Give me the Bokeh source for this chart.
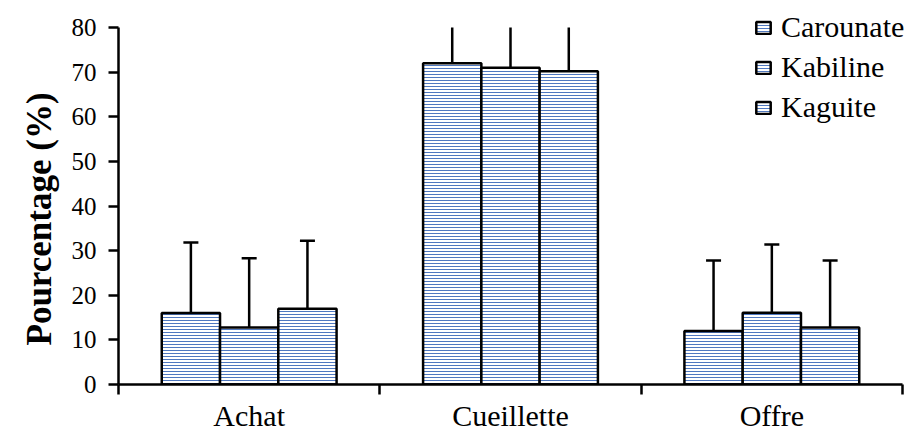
from bokeh.plotting import figure
from bokeh.models import FixedTicker, Legend, LegendItem, Range1d, Title
from bokeh.embed import file_html
from bokeh.resources import INLINE

categories = ["Achat", "Cueillette", "Offre"]
series = ["Carounate", "Kabiline", "Kaguite"]
carounate = [16.0, 72.0, 12.0]
kabiline = [12.8, 71.0, 16.1]
kaguite = [17.0, 70.2, 12.8]
carounate_err = [15.8, 16.0, 15.8]
kabiline_err = [15.5, 16.0, 15.3]
kaguite_err = [15.2, 16.0, 15.0]
y_ticks = [0, 10, 20, 30, 40, 50, 60, 70, 80]
y_label = "Pourcentage (%)"

values = [carounate, kabiline, kaguite]
errors = [carounate_err, kabiline_err, kaguite_err]

FONT = "Liberation Serif"
BAR_W = 0.223
HATCH = "#4f78c0"
Y_MAX = 80
W, H = 913, 434
LEFT, BOTTOM = 118, 50
FRAME_H = H - BOTTOM          # frame runs from top of canvas
AXIS_TOP_PX = 27              # where the axis maximum sits inside the frame
AXIS_RIGHT_PX = 902           # where the x axis ends
view_top = Y_MAX * FRAME_H / (FRAME_H - AXIS_TOP_PX)
n = len(categories)
view_right = n * (W - LEFT) / (AXIS_RIGHT_PX - LEFT)

p = figure(width=W, height=H, output_backend="svg", toolbar_location=None,
           x_range=Range1d(0, view_right), y_range=Range1d(0, view_top),
           min_border_left=LEFT, min_border_right=0, min_border_top=0, min_border_bottom=BOTTOM)
p.grid.visible = False
p.outline_line_color = None
p.background_fill_color = "white"

legend_items = []
for j, (name, vals, errs) in enumerate(zip(series, values, errors)):
    xs = [i + 0.5 + (j - 1) * BAR_W for i in range(n)]
    tops = [v + e for v, e in zip(vals, errs)]
    stem_tops = [min(t, Y_MAX) for t in tops]
    r = p.vbar(x=xs, top=vals, bottom=0, width=BAR_W, fill_color="white",
               hatch_pattern="horizontal_line", hatch_color=HATCH, hatch_scale=3, hatch_weight=1,
               line_color="black", line_width=2.5)
    p.segment(x0=xs, y0=vals, x1=xs, y1=stem_tops, line_color="black", line_width=2.5)
    cap_x = [x for x, t in zip(xs, tops) if t <= Y_MAX]
    cap_y = [t for t in tops if t <= Y_MAX]
    p.dash(x=cap_x, y=cap_y, size=15, line_color="black", line_width=2.5)
    legend_items.append(LegendItem(label=name, renderers=[r]))

legend = Legend(items=legend_items, location=(636, 260), padding=0, margin=0,
                border_line_color=None, background_fill_alpha=0,
                glyph_width=18, glyph_height=15, label_height=32, spacing=6,
                label_standoff=9, label_text_font=FONT, label_text_font_size="30px",
                label_text_color="black")
p.add_layout(legend, "center")

# x axis
p.xaxis.ticker = FixedTicker(ticks=[i + 0.5 for i in range(n)],
                             minor_ticks=list(range(n + 1)))
p.xaxis.bounds = (0, n)
p.xaxis.major_label_overrides = {i + 0.5: c for i, c in enumerate(categories)}
p.xaxis.major_tick_out = 0
p.xaxis.major_tick_in = 0
p.xaxis.minor_tick_out = 10
p.xaxis.minor_tick_in = 0
p.xaxis.minor_tick_line_color = "black"
p.xaxis.minor_tick_line_width = 2.5
p.xaxis.axis_line_width = 2.5
p.xaxis.axis_line_color = "black"
p.xaxis.major_label_text_font = FONT
p.xaxis.major_label_text_font_size = "30px"
p.xaxis.major_label_text_color = "black"
p.xaxis.major_label_standoff = 4

# y axis
p.yaxis.ticker = FixedTicker(ticks=y_ticks, minor_ticks=[])
p.yaxis.bounds = (0, Y_MAX)
p.yaxis.major_tick_out = 10
p.yaxis.major_tick_in = 0
p.yaxis.major_tick_line_width = 2.5
p.yaxis.major_tick_line_color = "black"
p.yaxis.axis_line_width = 2.5
p.yaxis.axis_line_color = "black"
p.yaxis.major_label_text_font = FONT
p.yaxis.major_label_text_font_size = "25px"
p.yaxis.major_label_text_color = "black"
p.yaxis.major_label_standoff = 12

p.add_layout(Title(text=y_label, align="left", offset=39, standoff=20,
                   text_font=FONT, text_font_size="35px", text_font_style="bold",
                   text_color="black"), "left")

open("out.html", "w").write(file_html(p, INLINE))
